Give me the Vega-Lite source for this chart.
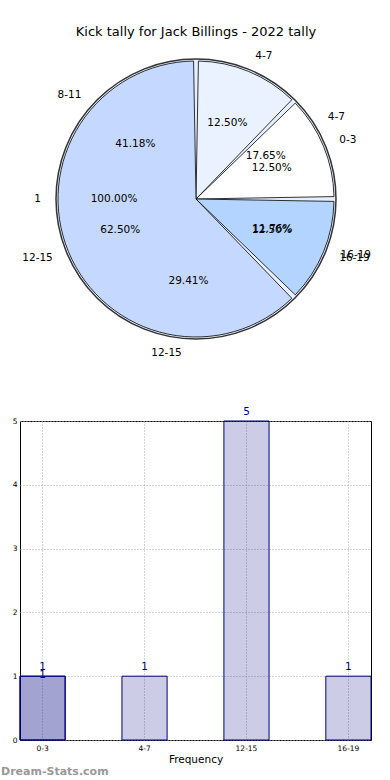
{
  "$schema": "https://vega.github.io/schema/vega-lite/v6.json",
  "padding": {"top": 25, "left": 0, "right": 0, "bottom": 0},
  "config": {"font": "DejaVu Sans", "view": {"stroke": null}},
  "datasets": {
    "top": [
      {"cat": "0-3", "pct": 12.5, "idx": 1, "lab": "12.50%"},
      {"cat": "4-7", "pct": 12.5, "idx": 2, "lab": "12.50%"},
      {"cat": "12-15", "pct": 62.5, "idx": 3, "lab": "62.50%"},
      {"cat": "16-19", "pct": 12.5, "idx": 4, "lab": "12.50%"}
    ],
    "under": [
      {"cat": "4-7", "pct": 17.65, "idx": 1, "lab": "17.65%"},
      {"cat": "8-11", "pct": 41.18, "idx": 2, "lab": "41.18%"},
      {"cat": "12-15", "pct": 29.41, "idx": 3, "lab": "29.41%"},
      {"cat": "16-19", "pct": 11.76, "idx": 4, "lab": "11.76%"}
    ],
    "whole": [
      {"cat": "1", "pct": 100, "idx": 1, "lab": "100.00%"}
    ],
    "bars": [
      {"cat": "0-3", "n": 1, "series": "a"},
      {"cat": "4-7", "n": 1, "series": "a"},
      {"cat": "12-15", "n": 5, "series": "a"},
      {"cat": "16-19", "n": 1, "series": "a"},
      {"cat": "0-3", "n": 1, "series": "b"}
    ]
  },
  "vconcat": [
    {
      "title": {"text": "Kick tally for Jack Billings - 2022 tally", "fontSize": 13, "fontWeight": "normal", "offset": 12},
      "width": 352,
      "height": 294,
      "layer": [
        {
          "data": {"name": "whole"},
          "mark": {"type": "arc", "radius": 140, "fill": "#e8f0ff", "stroke": "#333333", "strokeWidth": 1.5},
          "encoding": {
            "theta": {"field": "pct", "type": "quantitative", "stack": true, "scale": {"domain": [0, 100], "range": [1.5708, -4.7124]}},
            "order": {"field": "idx"}
          }
        },
        {
          "data": {"name": "top"},
          "mark": {"type": "arc", "radius": 138, "padAngle": 0.035, "stroke": "black", "strokeWidth": 0.8},
          "encoding": {
            "theta": {"field": "pct", "type": "quantitative", "stack": true},
            "order": {"field": "idx"},
            "color": {"field": "cat", "type": "nominal", "scale": {"domain": ["0-3", "4-7", "12-15", "16-19"], "range": ["#ffffff", "#eaf1ff", "#c5d8ff", "#b3d4ff"]}, "legend": null}
          }
        },
        {
          "data": {"name": "whole"},
          "mark": {"type": "text", "radius": 155, "fontSize": 10.5, "align": "right", "baseline": "middle"},
          "encoding": {
            "theta": {"field": "pct", "type": "quantitative", "stack": true},
            "order": {"field": "idx"},
            "text": {"field": "cat"}
          }
        },
        {
          "data": {"name": "whole"},
          "mark": {"type": "text", "radius": 82, "fontSize": 10.5, "baseline": "middle"},
          "encoding": {
            "theta": {"field": "pct", "type": "quantitative", "stack": true},
            "order": {"field": "idx"},
            "text": {"field": "lab"}
          }
        },
        {
          "data": {"name": "under"},
          "mark": {"type": "text", "radius": 155, "fontSize": 10.5, "baseline": "middle", "align": {"expr": "datum.cat === '8-11' || datum.cat === '12-15' ? 'right' : 'left'"}},
          "encoding": {
            "theta": {"field": "pct", "type": "quantitative", "stack": true},
            "order": {"field": "idx"},
            "text": {"field": "cat"}
          }
        },
        {
          "data": {"name": "under"},
          "mark": {"type": "text", "radius": 82, "fontSize": 10.5, "baseline": "middle"},
          "encoding": {
            "theta": {"field": "pct", "type": "quantitative", "stack": true},
            "order": {"field": "idx"},
            "text": {"field": "lab"}
          }
        },
        {
          "data": {"name": "top"},
          "mark": {"type": "text", "radius": 155, "fontSize": 10.5, "baseline": "middle", "align": {"expr": "datum.cat === '12-15' ? 'right' : 'left'"}},
          "encoding": {
            "theta": {"field": "pct", "type": "quantitative", "stack": true},
            "order": {"field": "idx"},
            "text": {"field": "cat"}
          }
        },
        {
          "data": {"name": "top"},
          "mark": {"type": "text", "radius": 82, "fontSize": 10.5, "baseline": "middle"},
          "encoding": {
            "theta": {"field": "pct", "type": "quantitative", "stack": true},
            "order": {"field": "idx"},
            "text": {"field": "lab"}
          }
        }
      ]
    },
    {
      "width": 351,
      "height": 319,
      "view": {"stroke": "black", "strokeWidth": 1},
      "title": {"text": "Dream-Stats.com", "orient": "bottom", "anchor": "start", "frame": "group", "dx": -19, "fontSize": 11, "fontWeight": "bold", "color": "#999999", "offset": 1},
      "layer": [
        {
          "data": {"name": "bars"},
          "mark": {"type": "bar", "fill": "#000080", "fillOpacity": 0.2, "stroke": "#000080", "strokeWidth": 1},
          "encoding": {
            "x": {"field": "cat", "type": "nominal", "sort": ["0-3", "4-7", "12-15", "16-19"], "scale": {"paddingInner": 0.557, "paddingOuter": 0},
                  "axis": {"title": "Frequency", "labelAngle": 0, "labelFontSize": 7.5, "titleFontSize": 10.5, "titleFontWeight": "normal", "grid": true, "gridDash": [1, 2], "gridColor": "#aaaaaa", "ticks": false, "domain": false, "labelPadding": 4, "titlePadding": 3, "bandPosition": 0.5}},
            "y": {"field": "n", "type": "quantitative", "stack": null, "scale": {"domain": [0, 5]},
                  "axis": {"title": null, "values": [0, 1, 2, 3, 4, 5], "format": "d", "labelFontSize": 7.5, "grid": true, "gridDash": [1, 2], "gridColor": "#aaaaaa", "ticks": false, "domain": false, "labelPadding": 3}}
          }
        },
        {
          "data": {"name": "bars"},
          "transform": [{"filter": "datum.series === 'a'"}],
          "mark": {"type": "text", "dy": -9, "fontSize": 10.5, "color": "#000080", "baseline": "middle"},
          "encoding": {
            "x": {"field": "cat", "type": "nominal", "sort": ["0-3", "4-7", "12-15", "16-19"]},
            "y": {"field": "n", "type": "quantitative"},
            "text": {"field": "n"}
          }
        },
        {
          "data": {"name": "bars"},
          "transform": [{"filter": "datum.series === 'b'"}],
          "mark": {"type": "text", "dy": -1, "fontSize": 10.5, "color": "#000080", "baseline": "middle"},
          "encoding": {
            "x": {"field": "cat", "type": "nominal", "sort": ["0-3", "4-7", "12-15", "16-19"]},
            "y": {"field": "n", "type": "quantitative"},
            "text": {"field": "n"}
          }
        }
      ]
    }
  ],
  "spacing": 47
}
